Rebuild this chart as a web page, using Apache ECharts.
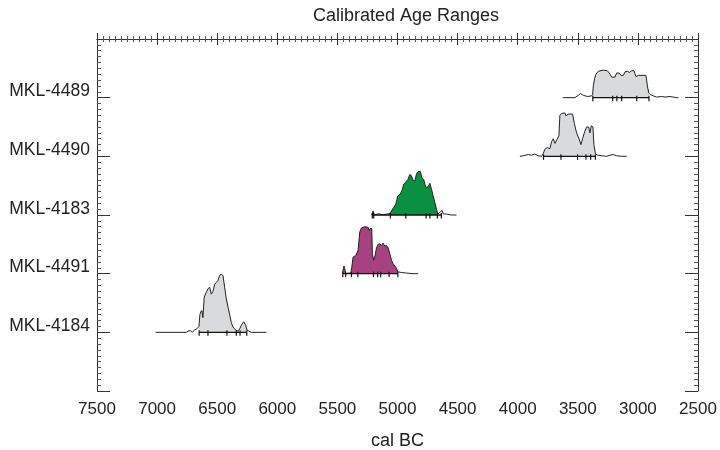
<!DOCTYPE html>
<html><head><meta charset="utf-8">
<script src="https://cdn.jsdelivr.net/npm/echarts@6/dist/echarts.min.js"></script>
<style>html,body{margin:0;padding:0;background:#fff}#c{width:720px;height:450px}</style>
</head><body><div id="c"></div>
<script>
const categories = ['MKL-4489', 'MKL-4490', 'MKL-4183', 'MKL-4491', 'MKL-4184'];
const rowValues = [1, 2, 3, 4, 5];
const xTicks = [7500, 7000, 6500, 6000, 5500, 5000, 4500, 4000, 3500, 3000, 2500];

const years4489 = [3625,3524,3496,3477,3454,3421,3385,3377,3371,3360,3349,3329,3288,3255,3238,3218,3191,3177,3155,3141,3121,3107,3088,3071,3052,3033,3016,2996,2933,2921,2910,2894,2871,2844,2802,2774,2733,2705,2677,2663];
const prob4489 = [0,0,0.04,0.07,0.04,0.02,0.03,0.05,0.2,0.33,0.4,0.45,0.47,0.46,0.42,0.35,0.35,0.42,0.42,0.38,0.38,0.44,0.45,0.43,0.46,0.46,0.36,0.38,0.38,0.2,0.08,0.05,0.03,0.01,0.02,0.01,0.02,0.01,0,0];
const fill4489 = [[3375, 2908]];
const ticks4489 = [3375, 3210, 3175, 3135, 3010, 2908];

const years4490 = [3982,3954,3912,3885,3857,3829,3801,3787,3774,3754,3732,3718,3704,3690,3676,3657,3649,3635,3607,3599,3579,3543,3529,3510,3490,3474,3460,3443,3427,3410,3399,3388,3374,3366,3354,3338,3302,3260,3232,3205,3177,3135,3094];
const prob4490 = [0,0.01,0.03,0.02,0.04,0.01,0,0.05,0.12,0.15,0.13,0.25,0.3,0.22,0.28,0.35,0.7,0.73,0.74,0.69,0.72,0.72,0.56,0.4,0.3,0.2,0.3,0.42,0.5,0.5,0.4,0.52,0.5,0.2,0.05,0.02,0.01,0,0.02,0.03,0.01,0,0];
const fill4490 = [[3787, 3354]];
const ticks4490 = [3785, 3640, 3502, 3432, 3393, 3354];

const years4183 = [5217,5210,5203,5196,5192,5161,5120,5078,5059,5048,5031,5014,4998,4976,4959,4948,4931,4912,4898,4884,4870,4856,4842,4829,4809,4798,4781,4765,4745,4731,4717,4704,4690,4676,4665,4648,4631,4620,4593,4551,4509];
const prob4183 = [0,0.02,0.07,0.02,0,0.02,0.005,0.02,0.03,0.08,0.13,0.19,0.32,0.36,0.44,0.53,0.56,0.61,0.69,0.67,0.59,0.58,0.7,0.74,0.74,0.64,0.6,0.47,0.48,0.54,0.44,0.33,0.22,0.1,0.02,0.04,0.08,0.02,0.015,0,0];
const fill4183 = [[5210, 5198], [5059, 4665]];
const ticks4183 = [5210, 5198, 5059, 4931, 4762, 4731, 4668, 4635];

const years4491 = [5459,5453,5445,5436,5431,5411,5389,5381,5370,5347,5328,5314,5300,5273,5245,5236,5225,5214,5209,5198,5187,5175,5161,5148,5134,5120,5106,5092,5078,5064,5050,5037,5014,4995,4967,4926,4870,4828];
const prob4491 = [0,0.06,0.13,0.06,0,0.01,0.01,0.1,0.28,0.31,0.4,0.71,0.78,0.8,0.79,0.74,0.77,0.77,0.34,0.23,0.3,0.44,0.5,0.51,0.48,0.52,0.47,0.48,0.44,0.34,0.23,0.17,0.11,0.03,0.02,0.01,0,0];
const fill4491 = [[5455, 5431], [5383, 4997]];
const ticks4491 = [5455, 5431, 5383, 5330, 5200, 5165, 5140, 5070, 4997];

const years4184 = [7013,6757,6743,6724,6707,6688,6669,6652,6644,6635,6627,6619,6608,6591,6577,6563,6549,6535,6521,6508,6494,6480,6466,6452,6438,6424,6410,6397,6383,6369,6355,6341,6324,6313,6297,6280,6263,6252,6236,6216,6091];
const prob4184 = [0,0,0.02,0.03,0.005,0.04,0.06,0.1,0.3,0.36,0.37,0.25,0.6,0.68,0.74,0.77,0.65,0.7,0.82,0.85,0.88,0.97,0.99,0.97,0.77,0.57,0.43,0.31,0.17,0.09,0.06,0.03,0.02,0.06,0.13,0.18,0.12,0.04,0.02,0,0];
const fill4184 = [[6650, 6341], [6310, 6254]];
const ticks4184 = [6650, 6577, 6419, 6341, 6310, 6254];

const fillColors = ['#d9dadc', '#d9dadc', '#0a9040', '#a8417f', '#d9dadc'];

const samples = [
  { years: years4489, probs: prob4489, fills: fill4489, ticks: ticks4489 },
  { years: years4490, probs: prob4490, fills: fill4490, ticks: ticks4490 },
  { years: years4183, probs: prob4183, fills: fill4183, ticks: ticks4183 },
  { years: years4491, probs: prob4491, fills: fill4491, ticks: ticks4491 },
  { years: years4184, probs: prob4184, fills: fill4184, ticks: ticks4184 }
];

function interp(s, yr) {
  const ys = s.years, ps = s.probs;
  for (let i = 0; i < ys.length - 1; i++) {
    if (yr <= ys[i] && yr >= ys[i + 1]) {
      const t = (ys[i] - yr) / (ys[i] - ys[i + 1] || 1);
      return ps[i] + t * (ps[i + 1] - ps[i]);
    }
  }
  return 0;
}

const FONT = 'Liberation Sans, Arial, Helvetica, sans-serif';

function renderItem(params, api) {
  const idx = api.value(0);
  const s = samples[idx];
  const base = rowValues[idx];
  const pt = (yr, h) => api.coord([yr, base - h]);
  const children = [];
  s.fills.forEach(([a, b]) => {
    const pts = [pt(a, 0), pt(a, interp(s, a))];
    for (let i = 0; i < s.years.length; i++) {
      if (s.years[i] < a && s.years[i] > b) pts.push(pt(s.years[i], s.probs[i]));
    }
    pts.push(pt(b, interp(s, b)), pt(b, 0));
    children.push({ type: 'polygon', shape: { points: pts }, style: { fill: fillColors[idx], stroke: null } });
  });
  const outline = s.years.map((yr, i) => pt(yr, s.probs[i]));
  children.push({ type: 'polyline', shape: { points: outline }, style: { stroke: '#222', lineWidth: 1, fill: null } });
  const t0 = pt(s.ticks[0], 0), t1 = pt(s.ticks[s.ticks.length - 1], 0);
  children.push({ type: 'line', shape: { x1: t0[0], y1: t0[1], x2: t1[0], y2: t1[1] }, style: { stroke: '#111', lineWidth: 1.3 } });
  s.ticks.forEach(yr => {
    const p = pt(yr, 0);
    children.push({ type: 'line', shape: { x1: p[0], y1: p[1] - 2, x2: p[0], y2: p[1] + 3.5 }, style: { stroke: '#111', lineWidth: 1.2 } });
  });
  return { type: 'group', children };
}

const axisLineStyle = { show: true, lineStyle: { color: '#333', width: 1 } };

const xCommon = {
  type: 'value', inverse: true, min: 2500, max: 7500, interval: 500,
  axisLine: axisLineStyle,
  axisTick: { show: true, inside: true, length: 6, lineStyle: { color: '#333' } },
  minorTick: { show: true, splitNumber: 10, length: 3, lineStyle: { color: '#555' } },
  splitLine: { show: false }, minorSplitLine: { show: false }
};
const yCommon = {
  type: 'value', inverse: true, min: 0, max: 6, interval: 1,
  axisLine: axisLineStyle,
  axisTick: { show: true, inside: true, length: 13, lineStyle: { color: '#333' } },
  minorTick: { show: true, splitNumber: 10, length: 4, lineStyle: { color: '#555' } },
  splitLine: { show: false }, minorSplitLine: { show: false }
};

const chart = echarts.init(document.getElementById('c'), null, { renderer: 'canvas' });
chart.setOption({
  animation: false,
  backgroundColor: '#fff',
  title: {
    text: 'Calibrated Age Ranges', left: 401, top: 2, textAlign: 'center',
    textStyle: { fontFamily: FONT, fontSize: 18, fontWeight: 'normal', color: '#222' }
  },
  grid: { left: 97, right: 22, top: 39, bottom: 59, containLabel: false, outerBoundsMode: 'none' },
  xAxis: [
    Object.assign({}, xCommon, {
      position: 'bottom',
      name: 'cal BC', nameLocation: 'middle', nameGap: 41,
      nameTextStyle: { fontFamily: FONT, fontSize: 18, color: '#222' },
      axisLabel: { show: true, margin: 10, fontFamily: FONT, fontSize: 17, color: '#222',
        formatter: v => xTicks.includes(v) ? String(v) : '' }
    }),
    Object.assign({}, xCommon, { position: 'top', axisLabel: { show: false } })
  ],
  yAxis: [
    Object.assign({}, yCommon, {
      position: 'left',
      axisLabel: { show: true, margin: 7, fontFamily: FONT, fontSize: 17.5, color: '#222',
        verticalAlign: 'bottom', lineHeight: 12,
        formatter: v => (v >= 1 && v <= 5) ? categories[v - 1] : '' }
    }),
    Object.assign({}, yCommon, { position: 'right', axisLabel: { show: false } })
  ],
  series: [{
    type: 'custom', xAxisIndex: 0, yAxisIndex: 0,
    renderItem: renderItem,
    data: samples.map((s, i) => [i]),
    encode: { x: -1, y: -1 },
    clip: false
  }]
});
</script></body></html>
